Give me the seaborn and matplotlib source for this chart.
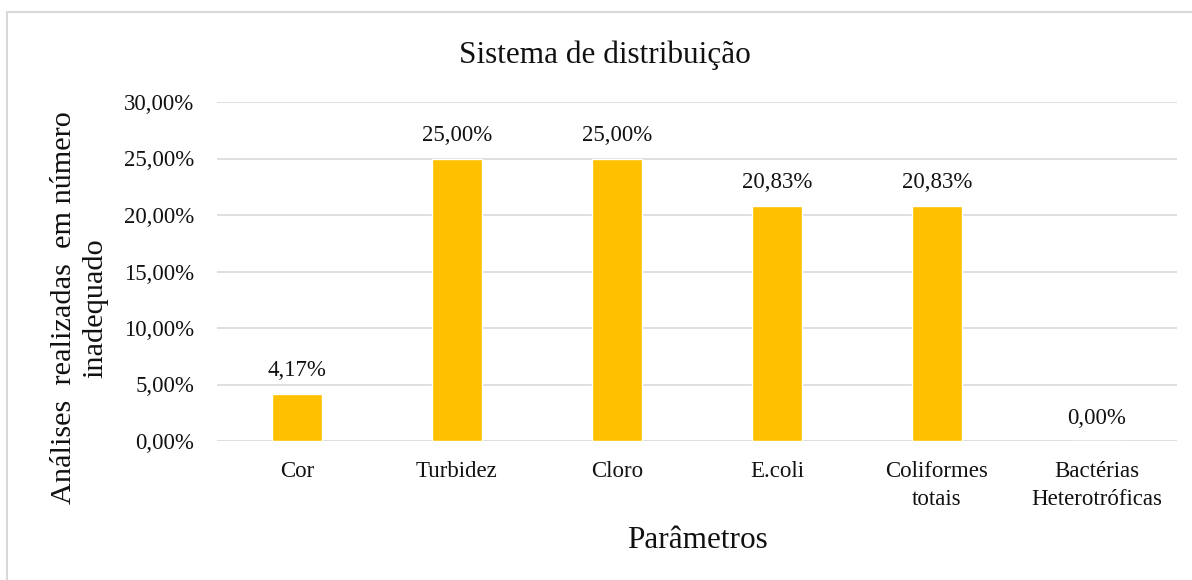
import pandas as pd
import matplotlib
matplotlib.use("Agg")
import matplotlib.pyplot as plt
import seaborn as sns
from matplotlib.patches import Rectangle
from matplotlib.ticker import FuncFormatter

# dados
parametros = ["Cor", "Turbidez", "Cloro", "E.coli", "Coliformes\ntotais", "Bactérias\nHeterotróficas"]
percentuais = [4.17, 25.00, 25.00, 20.83, 20.83, 0.00]
rotulos = ["4,17%", "25,00%", "25,00%", "20,83%", "20,83%", "0,00%"]
yticks = [0, 5, 10, 15, 20, 25, 30]

df = pd.DataFrame({"param": parametros, "pct": percentuais})

sns.set_theme(style="white")
plt.rcParams["font.family"] = ["Liberation Serif", "DejaVu Serif"]

fig = plt.figure(figsize=(11.92, 5.8), dpi=100)
ax = fig.add_axes([217 / 1192, 1 - 441 / 580, 960 / 1192, 339 / 580])

sns.barplot(data=df, x="param", y="pct", color="#FFC000", saturation=1,
            width=0.3125, ax=ax)

for i, (v, t) in enumerate(zip(percentuais, rotulos)):
    ax.text(i, v + 1.1, t, ha="center", va="bottom", fontsize=16.5, color="#111111")

ax.set_ylim(0, 30)
ax.set_xlim(-0.5, 5.5)
ax.set_yticks(yticks)
ax.yaxis.set_major_formatter(FuncFormatter(lambda v, p: f"{v:.2f}%".replace(".", ",")))
ax.yaxis.grid(True, color="#d9d9d9", linewidth=1.2)
ax.set_axisbelow(True)
for s in ax.spines.values():
    s.set_visible(False)
ax.tick_params(axis="both", length=0, labelsize=16.5, colors="#111111")
ax.tick_params(axis="y", pad=16.5)
ax.tick_params(axis="x", pad=14.5)
for lbl in ax.get_xticklabels():
    lbl.set_linespacing(1.45)

ax.set_xlabel("Parâmetros", fontsize=22.5, color="#111111", labelpad=11)
ax.set_ylabel("")
fig.text(80 / 1192, 1 - 308 / 580, "Análises  realizadas  em número\ninadequado",
         rotation=90, ha="center", va="center", fontsize=21.8, color="#111111",
         linespacing=1.25)
fig.text(605 / 1192, 1 - 55 / 580, "Sistema de distribuição", ha="center",
         va="center", fontsize=22.5, color="#111111")

# borda do gráfico
fig.patches.append(Rectangle((7 / 1192, -0.1), 1.2, 1 - 12 / 580 + 0.1,
                             transform=fig.transFigure, fill=False,
                             edgecolor="#d9d9d9", linewidth=1.5))

fig.savefig("out.png", dpi=100)
